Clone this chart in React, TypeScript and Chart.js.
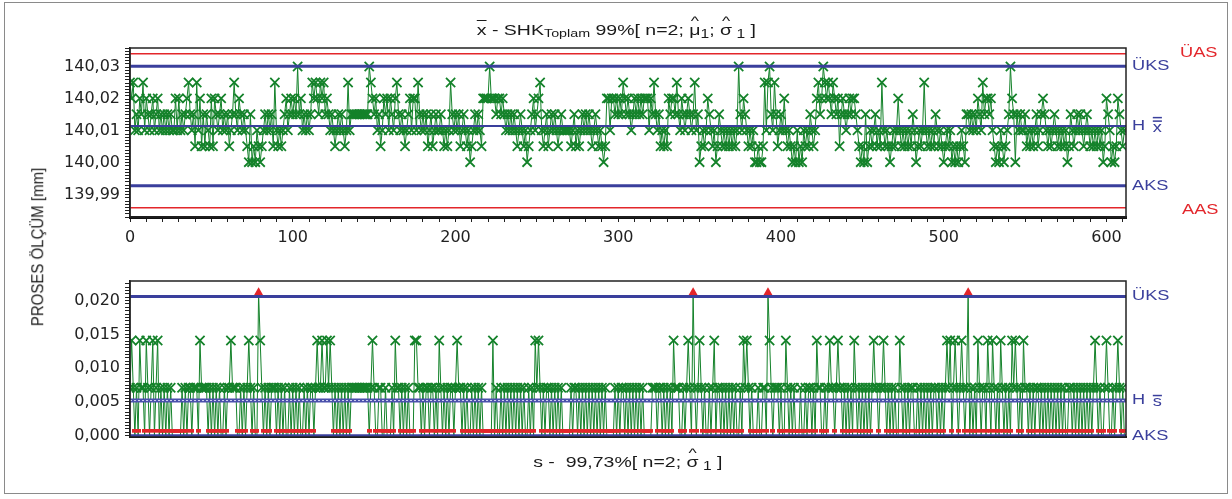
import React, { useEffect, useRef } from 'react';
import { Chart, registerables } from 'chart.js';

Chart.register(...registerables);

// ---------------- DATA ----------------
const subgroupCount = 612;

const xbarValues: number[] = [
  140.025,140.02,140.025,140.01,140.015,140.01,140.02,140.015,140.025,140.01,
  140.02,140.015,140.01,140.015,140.02,140.01,140.015,140.02,140.01,140.015,
  140.01,140.015,140.01,140.015,140.01,140.015,140.01,140.01,140.02,140.01,
  140.02,140.01,140.015,140.01,140.015,140.02,140.025,140.015,140.01,140.015,
  140.005,140.025,140.01,140.02,140.005,140.015,140.005,140.015,140.01,140.005,
  140.02,140.005,140.02,140.015,140.01,140.015,140.02,140.01,140.015,140.01,
  140.015,140.005,140.01,140.015,140.025,140.015,140.01,140.02,140.015,140.01,
  140.015,140.01,140.005,140,140.015,140,140.005,140,140.01,140.005,
  140,140.005,140.01,140.015,140.01,140.015,140.01,140.015,140.005,140.025,
  140.01,140.005,140.01,140.005,140.01,140.015,140.02,140.01,140.015,140.02,
  140.015,140.02,140.015,140.03,140.015,140.02,140.01,140.015,140.01,140.015,
  140.01,140.015,140.025,140.02,140.025,140.02,140.015,140.025,140.02,140.025,
  140.015,140.02,140.015,140.01,140.015,140.01,140.005,140.01,140.015,140.01,
  140.015,140.01,140.005,140.01,140.025,140.01,140.015,140.015,140.015,140.015,
  140.015,140.015,140.015,140.015,140.015,140.015,140.015,140.03,140.025,140.02,
  140.015,140.02,140.01,140.015,140.005,140.01,140.02,140.015,140.02,140.01,
  140.02,140.015,140.01,140.02,140.025,140.015,140.01,140.015,140.01,140.005,
  140.01,140.015,140.02,140.01,140.02,140.02,140.01,140.025,140.015,140.01,
  140.015,140.01,140.015,140.005,140.01,140.015,140.005,140.01,140.015,140.01,
  140.01,140.015,140.01,140.005,140.01,140.005,140.01,140.025,140.015,140.01,
  140.015,140.01,140.015,140.005,140.01,140.015,140.01,140.005,140.01,140,
  140.005,140.01,140.015,140.01,140.015,140.01,140.005,140.02,140.02,140.02,
  140.02,140.03,140.02,140.02,140.02,140.015,140.02,140.02,140.015,140.02,
  140.015,140.01,140.015,140.01,140.015,140.01,140.015,140.01,140.005,140.01,
  140.015,140.01,140.005,140.01,140,140.005,140.01,140.015,140.02,140.01,
  140.015,140.02,140.025,140.01,140.005,140.01,140.015,140.005,140.01,140.015,
  140.01,140.015,140.01,140.005,140.01,140.015,140.01,140.01,140.01,140.01,
  140.01,140.005,140.01,140.015,140.005,140.01,140.005,140.01,140.015,140.01,
  140.015,140.01,140.015,140.01,140.005,140.01,140.015,140.01,140.005,140.01,
  140.005,140,140.005,140.02,140.02,140.01,140.02,140.02,140.015,140.02,
  140.015,140.02,140.015,140.025,140.02,140.015,140.02,140.015,140.01,140.015,
  140.02,140.015,140.02,140.015,140.02,140.015,140.02,140.02,140.02,140.01,
  140.02,140.015,140.025,140.015,140.01,140.015,140.005,140.01,140.005,140.01,
  140.005,140.02,140.015,140.02,140.02,140.015,140.025,140.015,140.01,140.02,
  140.015,140.01,140.015,140.02,140.015,140.01,140.015,140.025,140.01,140.015,
  140,140.005,140.01,140.005,140.01,140.02,140.015,140.01,140.005,140.01,
  140,140.005,140.015,140.01,140.005,140.01,140.005,140.01,140.005,140.01,
  140.005,140.01,140.005,140.01,140.03,140.015,140.01,140.02,140.015,140.01,
  140.005,140.01,140.005,140.01,140,140,140.005,140,140,140.005,
  140.025,140.01,140.025,140.03,140.015,140.01,140.025,140.015,140.005,140.01,
  140.015,140.01,140.02,140.01,140.005,140.01,140.005,140,140.005,140,
  140.01,140,140.005,140,140.01,140.005,140.01,140.005,140.015,140.01,
  140.005,140.01,140.02,140.025,140.015,140.02,140.03,140.025,140.02,140.025,
  140.02,140.015,140.025,140.02,140.015,140.02,140.005,140.015,140.02,140.015,
  140.01,140.015,140.02,140.015,140.02,140.02,140.015,140.01,140.005,140,
  140.005,140,140.015,140,140.005,140.01,140.005,140.01,140.015,140.005,
  140.01,140.005,140.025,140.01,140.005,140.01,140.005,140,140.005,140.01,
  140.005,140.01,140.02,140.01,140.005,140.01,140.005,140.01,140.005,140.01,
  140.005,140.015,140.01,140,140.005,140.01,140.005,140.01,140.025,140.01,
  140.005,140.01,140.005,140.01,140.005,140.015,140.01,140.005,140.01,140.005,
  140,140.005,140.01,140.005,140.01,140,140.005,140,140.005,140,
  140.005,140.01,140.005,140,140.015,140.015,140.01,140.015,140.01,140.015,
  140.01,140.02,140.015,140.01,140.025,140.015,140.02,140.02,140.015,140.02,
  140.01,140.005,140,140.005,140,140.01,140.005,140,140.005,140.01,
  140.015,140.03,140.02,140.015,140,140.015,140.01,140.015,140.01,140.01,
  140.015,140.005,140.01,140.005,140.01,140.005,140.01,140.015,140.005,140.01,
  140.015,140.02,140.015,140.01,140.005,140.01,140.005,140.01,140.015,140.01,
  140.005,140.01,140.005,140.01,140.005,140.01,140,140.005,140.015,140.01,
  140.005,140.01,140.015,140.01,140.015,140.01,140.005,140.01,140.015,140.01,
  140.005,140.01,140.005,140.01,140.005,140.01,140.005,140.01,140,140.005,
  140.02,140.015,140.01,140,140.005,140,140.005,140.02,140.015,140.01,140.005,140.01
];

const sValues: number[] = [
  0.0071,0.0141,0.0071,0,0.0071,0,0.0141,0.0071,0.0071,0,
  0.0141,0.0071,0,0.0071,0.0141,0,0.0071,0.0141,0,0.0071,
  0,0.0071,0,0.0071,0,0.0071,0,0,0,0,
  0,0,0.0071,0,0.0071,0,0.0071,0.0071,0,0.0071,
  0.0071,0.0071,0,0.0141,0.0071,0.0071,0.0071,0.0071,0,0.0071,
  0,0.0071,0,0.0071,0,0.0071,0,0,0.0071,0,
  0.0071,0.0071,0.0141,0.0071,0.0071,0.0071,0,0,0.0071,0,
  0.0071,0,0.0071,0.0141,0.0071,0,0.0071,0,0,0.0212,
  0.0141,0.0071,0,0.0071,0,0.0071,0,0.0071,0.0071,0.0071,
  0,0.0071,0,0.0071,0,0.0071,0,0,0.0071,0,
  0.0071,0,0.0071,0,0.0071,0,0,0.0071,0,0.0071,
  0,0.0071,0.0071,0,0.0071,0.0141,0.0071,0.0071,0.0141,0.0071,
  0.0071,0.0141,0.0071,0.0141,0.0071,0,0.0071,0,0.0071,0,
  0.0071,0,0.0071,0,0.0071,0,0.0071,0.0071,0.0071,0.0071,
  0.0071,0.0071,0.0071,0.0071,0.0071,0.0071,0.0071,0,0.0071,0.0141,
  0.0071,0,0,0.0071,0.0071,0,0,0.0071,0,0,
  0,0.0071,0,0.0141,0.0071,0.0071,0,0.0071,0,0.0071,
  0,0.0071,0,0,0,0.0141,0.0141,0.0071,0.0071,0,
  0.0071,0,0.0071,0.0071,0,0.0071,0.0071,0,0.0071,0,
  0.0141,0.0071,0,0.0071,0,0.0071,0,0.0071,0.0071,0,
  0.0071,0.0141,0.0071,0.0071,0,0.0071,0,0.0071,0,0,
  0.0071,0,0.0071,0,0.0071,0,0.0071,0,0,0,
  0,0,0,0.0141,0,0.0071,0,0,0.0071,0,
  0.0071,0,0.0071,0,0.0071,0,0.0071,0,0.0071,0,
  0.0071,0,0.0071,0,0,0.0071,0,0.0071,0,0.0141,
  0.0071,0.0141,0.0071,0,0.0071,0,0.0071,0.0071,0,0.0071,
  0,0.0071,0,0.0071,0,0.0071,0,0,0,0,
  0,0.0071,0,0.0071,0.0071,0,0.0071,0,0.0071,0,
  0.0071,0,0.0071,0,0.0071,0,0.0071,0,0.0071,0,
  0.0071,0,0.0071,0,0,0,0,0,0.0071,0,
  0.0071,0,0.0071,0.0071,0,0.0071,0,0.0071,0,0.0071,
  0,0.0071,0,0.0071,0,0.0071,0,0,0,0,
  0,0.0071,0.0071,0.0071,0,0.0071,0.0071,0,0.0071,0,
  0.0071,0,0.0071,0,0.0141,0.0071,0.0071,0.0071,0,0,
  0.0071,0,0.0071,0.0141,0.0071,0,0.0212,0.0071,0,0.0071,
  0.0141,0.0071,0,0.0071,0,0,0.0071,0,0.0071,0.0141,
  0,0.0071,0.0071,0,0.0071,0,0.0071,0,0.0071,0,
  0.0071,0,0.0071,0,0,0.0071,0,0.0141,0.0071,0.0141,
  0.0071,0,0.0071,0,0,0,0.0071,0,0,0.0071,
  0.0071,0,0.0212,0.0141,0.0071,0,0.0071,0.0071,0.0071,0,
  0.0071,0,0,0.0141,0.0071,0,0.0071,0,0.0071,0,
  0,0,0.0071,0,0,0.0071,0,0.0071,0.0071,0,
  0.0071,0,0.0141,0.0071,0.0071,0,0,0.0071,0,0.0071,
  0.0141,0.0071,0.0071,0,0.0071,0.0141,0.0071,0.0071,0,0.0071,
  0,0.0071,0,0.0071,0,0.0141,0.0071,0,0.0071,0,
  0.0071,0,0.0071,0,0.0071,0,0.0071,0.0141,0.0071,0.0071,
  0,0.0071,0.0071,0.0141,0.0071,0,0.0071,0,0.0071,0,
  0.0071,0,0,0.0141,0.0071,0,0.0071,0,0.0071,0,
  0.0071,0.0071,0,0,0.0071,0,0.0071,0,0.0071,0,
  0.0071,0,0.0071,0,0.0071,0.0071,0,0.0071,0,0.0071,
  0,0.0071,0.0141,0.0071,0.0141,0,0.0071,0.0141,0.0071,0,
  0.0071,0.0141,0.0071,0,0.0071,0.0212,0,0.0071,0,0.0071,
  0,0.0141,0.0071,0,0.0071,0.0071,0,0.0141,0.0071,0,
  0.0141,0.0071,0,0.0071,0,0.0141,0.0071,0,0.0071,0,
  0.0071,0,0.0141,0.0071,0.0141,0.0071,0,0.0071,0,0.0141,
  0.0071,0.0071,0,0.0071,0,0.0071,0,0.0071,0.0071,0,
  0.0071,0,0.0071,0,0.0071,0,0.0071,0,0.0071,0,
  0.0071,0,0.0071,0,0.0071,0,0,0.0071,0.0071,0,
  0.0071,0,0.0071,0,0.0071,0,0.0071,0,0.0071,0,
  0.0071,0,0.0071,0.0141,0.0071,0,0.0071,0,0,0.0071,
  0.0141,0.0071,0,0,0.0071,0,0.0071,0.0141,0.0071,0,0.0071,0
];

const xTickLabels = [0, 100, 200, 300, 400, 500, 600];

// x-bar chart limits
const xbarUAS = 140.034;
const xbarUKS = 140.0301;
const xbarCenter = 140.0113;
const xbarAKS = 139.9926;
const xbarAAS = 139.9857;
const xbarAxisMin = 139.9828;
const xbarAxisMax = 140.0358;

// s chart limits
const sUKS = 0.0206;
const sCenter = 0.0052;
const sAKS = 0;
const sAxisMin = -0.0002;
const sAxisMax = 0.0229;

// ---------------- STYLE ----------------
const GREEN = '#14822a';
const BLUE = '#3a3f9c';
const RED = '#e3262b';
const FONT_FAMILY = '"Liberation Sans", Arial, Helvetica, sans-serif';
const TICK_FONT = { family: '"DejaVu Sans", "Liberation Sans", sans-serif', size: 16 };
const STRETCH = 1.3;

const W = 1232;
const TOP_H = 258;
const BOT_H = 241;

const hline = (v: number) => [
  { x: 0, y: v },
  { x: subgroupCount, y: v },
];

const framePlugin = {
  id: 'frame',
  afterDatasetsDraw(chart: any) {
    const { ctx, chartArea: a } = chart;
    ctx.save();
    ctx.strokeStyle = '#222';
    ctx.lineWidth = 1.5;
    ctx.strokeRect(a.left, a.top, a.right - a.left, a.bottom - a.top);
    ctx.restore();
  },
};

const limitLabelsPlugin = {
  id: 'limitLabels',
  afterDraw(chart: any, _args: any, opts: any) {
    const { ctx, chartArea } = chart;
    const yScale = chart.scales.y;
    const items: any[] = opts.items || [];
    ctx.save();
    ctx.font = `14px ${FONT_FAMILY}`;
    ctx.textBaseline = 'middle';
    ctx.textAlign = 'left';
    for (const it of items) {
      const y = yScale.getPixelForValue(it.value) + (it.dy || 0);
      const x = it.x !== undefined ? it.x : chartArea.right + 6;
      ctx.save();
      ctx.translate(x, y);
      ctx.scale(STRETCH, 1);
      ctx.fillStyle = it.color;
      ctx.fillText(it.text, 0, 0);
      if (it.suffix) {
        const sx = ctx.measureText(it.text + ' ').width + 2;
        ctx.fillText(it.suffix, sx, 2);
        const sw = ctx.measureText(it.suffix).width;
        ctx.strokeStyle = it.color;
        ctx.lineWidth = 1.5;
        for (let b = 0; b < (it.bars || 1); b++) {
          const by = -5 - b * 3.5;
          ctx.beginPath();
          ctx.moveTo(sx, by);
          ctx.lineTo(sx + sw, by);
          ctx.stroke();
        }
      }
      ctx.restore();
    }
    ctx.restore();
  },
};

function yTickCallbackXbar(v: any) {
  const k = Math.round(Number(v) * 1000);
  if (k % 10 === 0) return (k / 1000).toFixed(2).replace('.', ',');
  return '';
}

function yTickCallbackS(v: any) {
  const k = Math.round(Number(v) * 10000);
  if (k % 50 === 0) return (k / 10000).toFixed(3).replace('.', ',');
  return '';
}

function Hat({ children }: { children: any }) {
  return (
    <span style={{ position: 'relative', display: 'inline-block' }}>
      <span style={{ position: 'absolute', left: 0, right: 0, top: '-0.62em', textAlign: 'center', fontSize: '0.9em' }}>^</span>
      {children}
    </span>
  );
}

export default function App() {
  const topRef = useRef<HTMLCanvasElement | null>(null);
  const botRef = useRef<HTMLCanvasElement | null>(null);

  useEffect(() => {
    if (!topRef.current || !botRef.current) return;

    // red marker for points lying on AKS (s = 0)
    const zeroMark = document.createElement('canvas');
    zeroMark.width = 5;
    zeroMark.height = 14;
    const zctx = zeroMark.getContext('2d')!;
    zctx.fillStyle = RED;
    zctx.fillRect(0, 0, 5, 4);

    const xbarPoints = xbarValues.map((v, i) => ({ x: i, y: v }));
    const sPoints = sValues.map((v, i) => ({ x: i, y: v }));

    const commonX = (showLabels: boolean, height: number, borderWidth: number) => ({
      type: 'linear' as const,
      min: 0,
      max: subgroupCount,
      afterFit: (s: any) => {
        s.height = height;
      },
      ticks: {
        display: showLabels,
        stepSize: 10,
        autoSkip: false,
        includeBounds: false,
        maxRotation: 0,
        minRotation: 0,
        padding: 6,
        font: TICK_FONT,
        color: '#222',
        callback: (v: any) => (xTickLabels.includes(Math.round(Number(v))) ? String(Math.round(Number(v))) : ''),
      },
      grid: {
        drawOnChartArea: false,
        drawTicks: showLabels,
        tickLength: 5,
        color: '#222',
        lineWidth: 1,
      },
      border: { display: true, color: '#111', width: borderWidth },
    });

    const markerRadius = 6.5;

    const topChart = new Chart(topRef.current, {
      type: 'line',
      data: {
        datasets: [
          { data: hline(xbarCenter), borderColor: BLUE, borderWidth: 2, pointRadius: 0 },
          { data: hline(xbarUKS), borderColor: BLUE, borderWidth: 3, pointRadius: 0 },
          { data: hline(xbarAKS), borderColor: BLUE, borderWidth: 3, pointRadius: 0 },
          { data: hline(xbarUAS), borderColor: RED, borderWidth: 1.5, pointRadius: 0 },
          { data: hline(xbarAAS), borderColor: RED, borderWidth: 1.5, pointRadius: 0 },
          {
            data: xbarPoints,
            borderColor: GREEN,
            borderWidth: 1,
            pointStyle: 'crossRot',
            pointRadius: markerRadius,
            pointBorderColor: GREEN,
            pointBorderWidth: 1.8,
            pointBackgroundColor: GREEN,
          },
        ] as any,
      },
      options: {
        animation: false,
        responsive: false,
        maintainAspectRatio: false,
        events: [],
        parsing: false as any,
        normalized: true,
        layout: { padding: { left: 0, right: W - 1126, top: 48, bottom: TOP_H - 217 - 34 } },
        plugins: {
          legend: { display: false },
          tooltip: { enabled: false },
          limitLabels: {
            items: [
              { text: 'ÜAS', value: xbarUAS, color: RED, x: 1180, dy: -1 },
              { text: 'ÜKS', value: xbarUKS, color: BLUE },
              { text: 'H', value: xbarCenter, color: BLUE, suffix: 'x', bars: 2 },
              { text: 'AKS', value: xbarAKS, color: BLUE },
              { text: 'AAS', value: xbarAAS, color: RED, x: 1182, dy: 2 },
            ],
          },
        } as any,
        scales: {
          x: commonX(true, 34, 3) as any,
          y: {
            type: 'linear',
            min: xbarAxisMin,
            max: xbarAxisMax,
            afterFit: (s: any) => {
              s.width = 130;
            },
            ticks: {
              stepSize: 0.001,
              autoSkip: false,
              includeBounds: false,
              padding: 5,
              font: TICK_FONT,
              color: '#222',
              callback: yTickCallbackXbar,
            },
            grid: { drawOnChartArea: false, drawTicks: true, tickLength: 5, color: '#222' },
            border: { display: true, color: '#111', width: 1.5 },
          },
        },
      },
      plugins: [framePlugin, limitLabelsPlugin],
    });

    const botChart = new Chart(botRef.current, {
      type: 'line',
      data: {
        datasets: [
          {
            data: hline(sCenter),
            borderColor: 'rgba(215,218,245,0.95)',
            borderWidth: 1,
            borderDash: [2, 2],
            pointRadius: 0,
          },
          { data: hline(sCenter), borderColor: '#4a50ab', borderWidth: 4, pointRadius: 0 },
          { data: hline(sUKS), borderColor: BLUE, borderWidth: 3, pointRadius: 0 },
          { data: hline(sAKS), borderColor: BLUE, borderWidth: 3, pointRadius: 0 },
          {
            data: sPoints,
            borderColor: GREEN,
            borderWidth: 1,
            pointStyle: (c: any) => {
              const v = sValues[c.dataIndex];
              if (v === 0) return zeroMark;
              if (v > sUKS) return 'triangle';
              return 'crossRot';
            },
            pointRadius: (c: any) => {
              const v = sValues[c.dataIndex];
              if (v > sUKS) return 3.5;
              return markerRadius;
            },
            pointBorderColor: (c: any) => (sValues[c.dataIndex] > sUKS ? RED : GREEN),
            pointBackgroundColor: (c: any) => (sValues[c.dataIndex] > sUKS ? RED : GREEN),
            pointBorderWidth: 1.8,
          },
        ] as any,
      },
      options: {
        animation: false,
        responsive: false,
        maintainAspectRatio: false,
        events: [],
        parsing: false as any,
        layout: { padding: { left: 0, right: W - 1126, top: 281 - TOP_H, bottom: BOT_H - (437 - TOP_H) - 2 } },
        plugins: {
          legend: { display: false },
          tooltip: { enabled: false },
          limitLabels: {
            items: [
              { text: 'ÜKS', value: sUKS, color: BLUE },
              { text: 'H', value: sCenter, color: BLUE, suffix: 's', bars: 1 },
              { text: 'AKS', value: sAKS, color: BLUE },
            ],
          },
        } as any,
        scales: {
          x: commonX(false, 2, 2) as any,
          y: {
            type: 'linear',
            min: sAxisMin,
            max: sAxisMax,
            afterFit: (s: any) => {
              s.width = 130;
            },
            ticks: {
              stepSize: 0.0005,
              autoSkip: false,
              includeBounds: false,
              padding: 5,
              font: TICK_FONT,
              color: '#222',
              callback: yTickCallbackS,
            },
            grid: { drawOnChartArea: false, drawTicks: true, tickLength: 5, color: '#222' },
            border: { display: true, color: '#111', width: 1.5 },
          },
        },
      },
      plugins: [framePlugin, limitLabelsPlugin],
    });

    return () => {
      topChart.destroy();
      botChart.destroy();
    };
  }, []);

  const textStyle: React.CSSProperties = {
    fontFamily: FONT_FAMILY,
    fontSize: 15,
    color: '#1a1a1a',
    whiteSpace: 'nowrap',
  };

  return (
    <div style={{ position: 'absolute', left: 0, top: 0, width: W, height: 499, background: '#fff', overflow: 'hidden' }}>
      <div
        style={{
          position: 'absolute',
          left: 4,
          top: 2,
          width: 1222,
          height: 490,
          border: '1px solid #8a8a8a',
        }}
      />
      <canvas
        ref={topRef}
        width={W}
        height={TOP_H}
        style={{ position: 'absolute', left: 0, top: 0, width: W, height: TOP_H }}
      />
      <canvas
        ref={botRef}
        width={W}
        height={BOT_H}
        style={{ position: 'absolute', left: 0, top: TOP_H, width: W, height: BOT_H }}
      />
      <div style={{ position: 'absolute', left: 0, top: 21, width: W, textAlign: 'center' }}>
        <div style={{ ...textStyle, display: 'inline-block', transform: `scaleX(${STRETCH})` }}>
          <span style={{ textDecoration: 'overline' }}>x</span> - SHK
          <span style={{ fontSize: 11, position: 'relative', top: 2 }}>Toplam</span> 99%[ n=2; <Hat>μ</Hat>
          <span style={{ fontSize: 12, position: 'relative', top: 3 }}>1</span>; <Hat>σ</Hat>
          <span style={{ fontSize: 12, position: 'relative', top: 3 }}> 1</span> ]
        </div>
      </div>
      <div style={{ position: 'absolute', left: 12, top: 453, width: W, textAlign: 'center' }}>
        <div style={{ ...textStyle, display: 'inline-block', transform: `scaleX(${STRETCH})` }}>
          s - &nbsp;99,73%[ n=2; <Hat>σ</Hat>
          <span style={{ fontSize: 12, position: 'relative', top: 3 }}> 1</span> ]
        </div>
      </div>
      <div
        style={{
          ...textStyle,
          position: 'absolute',
          left: 37,
          top: 247,
          transform: `translate(-50%, -50%) rotate(-90deg) scaleY(1.15)`,
        }}
      >
        PROSES ÖLÇÜM [mm]
      </div>
    </div>
  );
}
